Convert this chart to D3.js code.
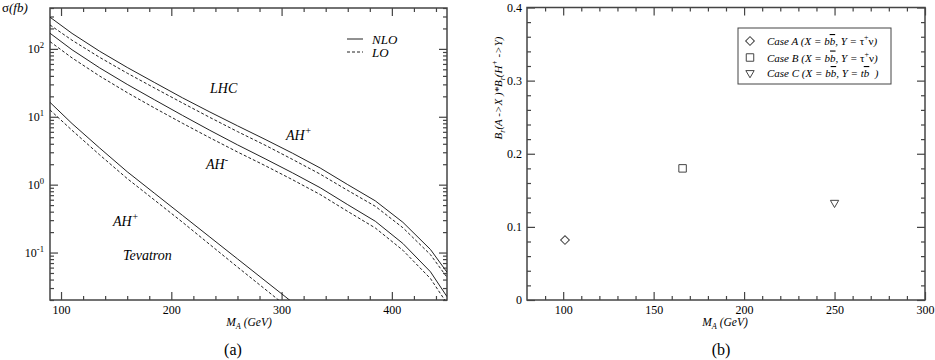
<!DOCTYPE html>
<html>
<head>
<meta charset="utf-8">
<script src="https://cdn.jsdelivr.net/npm/d3@7"></script>
<style>
body { margin: 0; background: #fff; }
svg, text { font-family: "Liberation Serif", "Times New Roman", serif; }
text { fill: #000; }
</style>
</head>
<body>
<script>
// ---- panel (a): sigma(fb) vs M_A ----
const massLHC = [90, 110, 135, 160, 185, 210, 235, 260, 285, 310, 335, 360, 385, 410, 435, 450];
const lhcAHpNLO = [293, 169, 92.3, 53.3, 31.8, 19.05, 11.75, 7.36, 4.65, 2.90, 1.76, 1.00, 0.577, 0.279, 0.111, 0.0513];
const lhcAHpLO = [225, 134, 75.0, 43.9, 26.4, 16.0, 9.77, 6.05, 3.82, 2.35, 1.43, 0.822, 0.480, 0.232, 0.0931, 0.0432];
const lhcAHmNLO = [170, 97.0, 52.5, 30.0, 17.7, 10.5, 6.31, 3.86, 2.41, 1.49, 0.902, 0.507, 0.289, 0.136, 0.0521, 0.0224];
const lhcAHmLO = [128, 73.6, 39.8, 22.7, 13.4, 8.04, 4.90, 3.03, 1.91, 1.18, 0.716, 0.403, 0.230, 0.108, 0.0414, 0.0178];

const massTev = [90, 110, 135, 160, 185, 210, 235, 260, 285, 310];
const tevAHpNLO = [16.3, 7.94, 3.47, 1.55, 0.741, 0.354, 0.169, 0.0807, 0.0385, 0.0184];
const tevAHpLO = [12.6, 6.31, 2.75, 1.23, 0.589, 0.281, 0.131, 0.0612, 0.0289, 0.0136];

const xTicksA = [100, 200, 300, 400];
const yTicksA = [0.1, 1, 10, 100];

// ---- panel (b): branching ratio products ----
const caseMass = [101, 166, 250];
const caseBr = [0.082, 0.18, 0.133];
const caseNames = ["A", "B", "C"];
const xTicksB = [100, 150, 200, 250, 300];
const yTicksB = [0, 0.1, 0.2, 0.3, 0.4];

const frameColor = "#444";
const lineColor = "#222";

const svg = d3.select("body").append("svg")
    .attr("width", 935)
    .attr("height", 360);

// text with sub/superscripts done with dy shifts
function rich(parent, x, y, parts, size, italic) {
    const t = parent.append("text")
        .attr("x", x).attr("y", y)
        .attr("font-size", size)
        .attr("font-style", italic ? "italic" : "normal");
    let shift = 0;
    parts.forEach(p => {
        const s = p.sup ? -size * 0.42 : p.sub ? size * 0.28 : 0;
        const ts = t.append("tspan").text(p.t).attr("dy", s - shift);
        if (p.sup || p.sub) ts.attr("font-size", size * 0.72);
        if (p.upright) ts.attr("font-style", "normal");
        if (p.over) ts.style("text-decoration", "overline");
        shift = s;
    });
    return t;
}

function ticks(g, axis, size) {
    g.call(axis.tickSizeInner(-size).tickSizeOuter(0));
    g.select(".domain").remove();
    g.attr("font-family", null);
    g.selectAll("line").attr("stroke", frameColor).attr("stroke-width", 1.2);
}

// ===== panel (a) =====
const xA = d3.scaleLinear([90, 450], [50, 447]);
const yA = d3.scaleLog([0.02, 400], [300, 8]);
const gA = svg.append("g");

svg.append("clipPath").attr("id", "clipA")
    .append("rect")
    .attr("x", xA.range()[0]).attr("y", yA.range()[1])
    .attr("width", xA.range()[1] - xA.range()[0])
    .attr("height", yA.range()[0] - yA.range()[1]);

const xMinorA = d3.range(100, 450, 20).filter(v => v % 100 != 0);
const yMinorA = yA.ticks().filter(v => !yTicksA.includes(v) && Math.abs(Math.log10(v) % 1) > 1e-6);

// bottom / top ticks
ticks(gA.append("g").attr("transform", `translate(0,${yA.range()[0]})`),
    d3.axisBottom(xA).tickValues(xMinorA).tickFormat(""), 4);
ticks(gA.append("g").attr("transform", `translate(0,${yA.range()[1]})`),
    d3.axisTop(xA).tickValues(xMinorA).tickFormat(""), 4);
ticks(gA.append("g").attr("transform", `translate(0,${yA.range()[1]})`),
    d3.axisTop(xA).tickValues(xTicksA).tickFormat(""), 8);
const xAxA = gA.append("g").attr("transform", `translate(0,${yA.range()[0]})`);
ticks(xAxA, d3.axisBottom(xA).tickValues(xTicksA).tickFormat(d3.format("d")).tickPadding(5), 8);
xAxA.attr("font-size", 12);

// left / right ticks
ticks(gA.append("g").attr("transform", `translate(${xA.range()[0]},0)`),
    d3.axisLeft(yA).tickValues(yMinorA).tickFormat(""), 4);
ticks(gA.append("g").attr("transform", `translate(${xA.range()[0]},0)`),
    d3.axisLeft(yA).tickValues(yTicksA).tickFormat(""), 8);
ticks(gA.append("g").attr("transform", `translate(${xA.range()[1]},0)`),
    d3.axisRight(yA).tickValues(yMinorA).tickFormat(""), 4);
ticks(gA.append("g").attr("transform", `translate(${xA.range()[1]},0)`),
    d3.axisRight(yA).tickValues(yTicksA).tickFormat(""), 8);

// log labels 10^n
yTicksA.forEach(v => {
    rich(gA, xA.range()[0] - 6, yA(v) + 4,
        [{t: "10"}, {t: String(Math.round(Math.log10(v))), sup: true}], 12, false)
        .attr("text-anchor", "end");
});

// frame
gA.append("rect")
    .attr("x", xA.range()[0]).attr("y", yA.range()[1])
    .attr("width", xA.range()[1] - xA.range()[0])
    .attr("height", yA.range()[0] - yA.range()[1])
    .attr("fill", "none").attr("stroke", frameColor).attr("stroke-width", 1.5);

// curves
const lineA = d3.line().x(d => xA(d[0])).y(d => yA(d[1]));
const curves = [
    [massLHC, lhcAHpNLO, false], [massLHC, lhcAHpLO, true],
    [massLHC, lhcAHmNLO, false], [massLHC, lhcAHmLO, true],
    [massTev, tevAHpNLO, false], [massTev, tevAHpLO, true]
];
gA.append("g").attr("clip-path", "url(#clipA)")
    .selectAll("path").data(curves).join("path")
    .attr("d", d => lineA(d3.zip(d[0], d[1])))
    .attr("fill", "none")
    .attr("stroke", lineColor)
    .attr("stroke-width", 1)
    .attr("stroke-dasharray", d => d[2] ? "3,2" : null);

// legend NLO / LO
gA.append("line").attr("x1", 347).attr("x2", 363).attr("y1", 39).attr("y2", 39)
    .attr("stroke", lineColor);
gA.append("line").attr("x1", 347).attr("x2", 363).attr("y1", 52).attr("y2", 52)
    .attr("stroke", lineColor).attr("stroke-dasharray", "3,2");
rich(gA, 372, 43.5, [{t: "NLO"}], 13, true);
rich(gA, 372, 56.5, [{t: "LO"}], 13, true);

// annotations
rich(gA, 210, 93, [{t: "LHC"}], 14, true);
rich(gA, 286, 140, [{t: "AH"}, {t: "+", sup: true}], 14, true);
rich(gA, 206, 169, [{t: "AH"}, {t: "-", sup: true}], 14, true);
rich(gA, 113, 226, [{t: "AH"}, {t: "+", sup: true}], 14, true);
rich(gA, 123, 260, [{t: "Tevatron"}], 14, true);

rich(svg, 2, 12, [{t: "σ", upright: true}, {t: "(fb)"}], 13, true);
rich(svg, 249, 326, [{t: "M"}, {t: "A", sub: true}, {t: " (GeV)"}], 11.5, true)
    .attr("text-anchor", "middle");
rich(svg, 233, 355, [{t: "(a)"}], 16, false).attr("text-anchor", "middle");

// ===== panel (b) =====
const xB = d3.scaleLinear([80, 300], [527, 925]);
const yB = d3.scaleLinear([0, 0.4], [300, 7.5]);
const gB = svg.append("g");

const xMinorB = d3.range(90, 300, 10).filter(v => v % 50 != 0);
const yMinorB = d3.range(1, 20).map(i => i * 0.02).filter(v => Math.abs(v * 10 - Math.round(v * 10)) > 1e-6);

ticks(gB.append("g").attr("transform", `translate(0,${yB.range()[0]})`),
    d3.axisBottom(xB).tickValues(xMinorB).tickFormat(""), 4);
ticks(gB.append("g").attr("transform", `translate(0,${yB.range()[1]})`),
    d3.axisTop(xB).tickValues(xMinorB).tickFormat(""), 4);
ticks(gB.append("g").attr("transform", `translate(0,${yB.range()[1]})`),
    d3.axisTop(xB).tickValues(xTicksB).tickFormat(""), 8);
const xAxB = gB.append("g").attr("transform", `translate(0,${yB.range()[0]})`);
ticks(xAxB, d3.axisBottom(xB).tickValues(xTicksB).tickFormat(d3.format("d")).tickPadding(5), 8);
xAxB.attr("font-size", 12);

ticks(gB.append("g").attr("transform", `translate(${xB.range()[0]},0)`),
    d3.axisLeft(yB).tickValues(yMinorB).tickFormat(""), 4);
const yAxB = gB.append("g").attr("transform", `translate(${xB.range()[0]},0)`);
ticks(yAxB, d3.axisLeft(yB).tickValues(yTicksB).tickFormat(d => d == 0 ? "0" : d3.format(".1f")(d)).tickPadding(5), 8);
yAxB.attr("font-size", 12);
ticks(gB.append("g").attr("transform", `translate(${xB.range()[1]},0)`),
    d3.axisRight(yB).tickValues(yMinorB).tickFormat(""), 4);
ticks(gB.append("g").attr("transform", `translate(${xB.range()[1]},0)`),
    d3.axisRight(yB).tickValues(yTicksB).tickFormat(""), 8);

gB.append("rect")
    .attr("x", xB.range()[0]).attr("y", yB.range()[1])
    .attr("width", xB.range()[1] - xB.range()[0])
    .attr("height", yB.range()[0] - yB.range()[1])
    .attr("fill", "none").attr("stroke", frameColor).attr("stroke-width", 1.5);

// markers: diamond, square, down triangle
const markerPath = [
    d3.symbol(d3.symbolSquare, 38)(),
    d3.symbol(d3.symbolSquare, 56)(),
    d3.symbol(d3.symbolTriangle, 30)()
];
const markerRot = [45, 0, 180];

gB.selectAll("path.pt").data(caseMass).join("path")
    .attr("class", "pt")
    .attr("d", (d, i) => markerPath[i])
    .attr("transform", (d, i) => `translate(${xB(d)},${yB(caseBr[i])}) rotate(${markerRot[i]})`)
    .attr("fill", "none").attr("stroke", frameColor).attr("stroke-width", 1);

// legend box
gB.append("rect").attr("x", 738).attr("y", 28).attr("width", 153).attr("height", 56)
    .attr("fill", "#fff").attr("stroke", frameColor).attr("stroke-width", 1);
const legY = [41, 57.5, 73];
caseNames.forEach((c, i) => {
    gB.append("path").attr("d", markerPath[i])
        .attr("transform", `translate(750,${legY[i]}) rotate(${markerRot[i]})`)
        .attr("fill", "none").attr("stroke", frameColor).attr("stroke-width", 1);
    const tail = c == "C"
        ? [{t: ", Y = t"}, {t: "b", over: true}, {t: "  )"}]
        : [{t: ", Y = "}, {t: "τ", upright: true}, {t: "+", sup: true, upright: true}, {t: "ν", upright: true}, {t: ")"}];
    rich(gB, 767, legY[i] + 4, [{t: `Case ${c} (X = b`}, {t: "b", over: true}].concat(tail), 11, true)
        .style("white-space", "pre");
});

rich(svg, 0, 0, [{t: "B"}, {t: "r", sub: true}, {t: "(A ->X )*B"}, {t: "r", sub: true},
    {t: "(H"}, {t: "+", sup: true}, {t: " ->Y)"}], 11, true)
    .attr("text-anchor", "middle")
    .attr("transform", "translate(502,88) rotate(-90)");
rich(svg, 725, 326, [{t: "M"}, {t: "A", sub: true}, {t: " (GeV)"}], 11.5, true)
    .attr("text-anchor", "middle");
rich(svg, 721, 355, [{t: "(b)"}], 16, false).attr("text-anchor", "middle");
</script>
</body>
</html>
